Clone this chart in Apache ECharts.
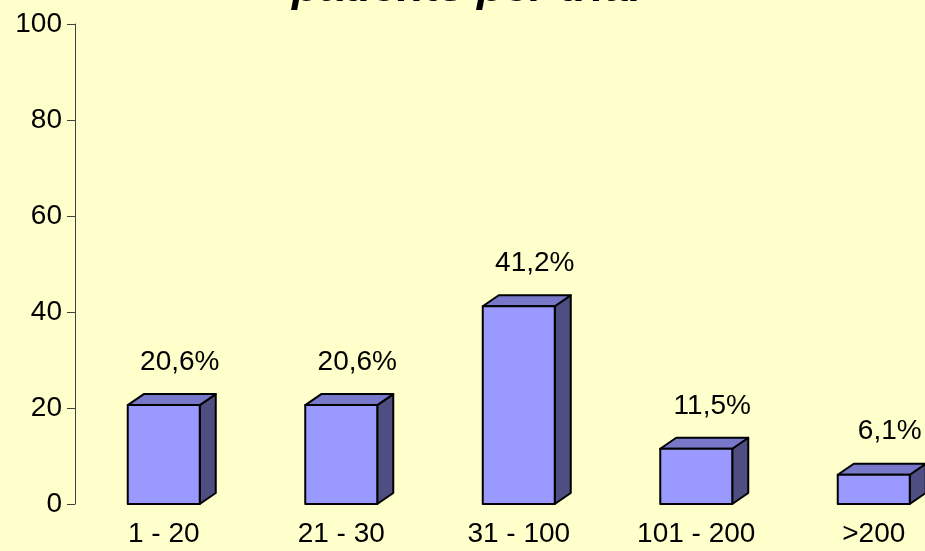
<!DOCTYPE html>
<html>
<head>
<meta charset="utf-8">
<script src="https://cdn.jsdelivr.net/npm/echarts@6/dist/echarts.min.js"></script>
<style>
  html, body { margin: 0; padding: 0; background: #FFFFCC; overflow: hidden; width: 925px; height: 551px; }
  #chart { width: 963px; height: 551px; }
</style>
</head>
<body>
<div id="chart"></div>
<script>
const titleText = 'patients per trial';
const categories = ['1 - 20', '21 - 30', '31 - 100', '101 - 200', '>200'];
const values = [20.6, 20.6, 41.2, 11.5, 6.1];
const yTicks = [0, 20, 40, 60, 80, 100];

const FONT = '"Liberation Sans", Arial, sans-serif';
const chart = echarts.init(document.getElementById('chart'), null, { renderer: 'canvas' });

const DX = 16, DY = 11, BW = 72;

function fmt(v) { return v.toFixed(1).replace('.', ',') + '%'; }

chart.setOption({
  backgroundColor: '#FFFFCC',
  animation: false,
  title: {
    text: titleText,
    left: 467,
    textAlign: 'center',
    top: -34,
    padding: 0,
    textStyle: { fontFamily: FONT, fontSize: 45, fontWeight: 'bold', fontStyle: 'italic', color: '#000' }
  },
  grid: { left: 75, right: 0.5, top: 24, bottom: 47, containLabel: false },
  xAxis: {
    type: 'category',
    data: categories,
    axisLine: { show: false },
    axisTick: { show: false },
    axisLabel: { fontFamily: FONT, fontSize: 28, color: '#000', margin: 16, interval: 0 },
    splitLine: { show: false }
  },
  yAxis: {
    type: 'value',
    min: yTicks[0],
    max: yTicks[yTicks.length - 1],
    interval: 20,
    axisLine: { show: true, lineStyle: { color: '#404040', width: 1 } },
    axisTick: { show: true, length: 8, lineStyle: { color: '#404040', width: 1 } },
    axisLabel: { fontFamily: FONT, fontSize: 28, color: '#000', margin: 13 },
    splitLine: { show: false }
  },
  series: [{
    type: 'custom',
    data: values.map((v, i) => [i, v]),
    clip: false,
    renderItem: function (params, api) {
      const idx = api.value(0), v = api.value(1);
      const base = api.coord([idx, 0]);
      const top = api.coord([idx, v]);
      const l = base[0] - BW / 2, r = base[0] + BW / 2;
      const yt = top[1], yb = base[1];
      const stroke = { stroke: '#000', lineWidth: 2, lineJoin: 'round' };
      return {
        type: 'group',
        children: [
          { type: 'polygon', shape: { points: [[r, yt], [r + DX, yt - DY], [r + DX, yb - DY], [r, yb]] },
            style: Object.assign({ fill: '#4E4E82' }, stroke) },
          { type: 'polygon', shape: { points: [[l, yt], [l + DX, yt - DY], [r + DX, yt - DY], [r, yt]] },
            style: Object.assign({ fill: '#7878CA' }, stroke) },
          { type: 'rect', shape: { x: l, y: yt, width: BW, height: yb - yt },
            style: Object.assign({ fill: '#9999FF' }, stroke) },
          { type: 'text', x: base[0] + DX, y: yt - DY - 32,
            style: { text: fmt(v), fontFamily: FONT, fontSize: 28, fill: '#000', align: 'center', verticalAlign: 'middle' } }
        ]
      };
    }
  }]
});
</script>
</body>
</html>
